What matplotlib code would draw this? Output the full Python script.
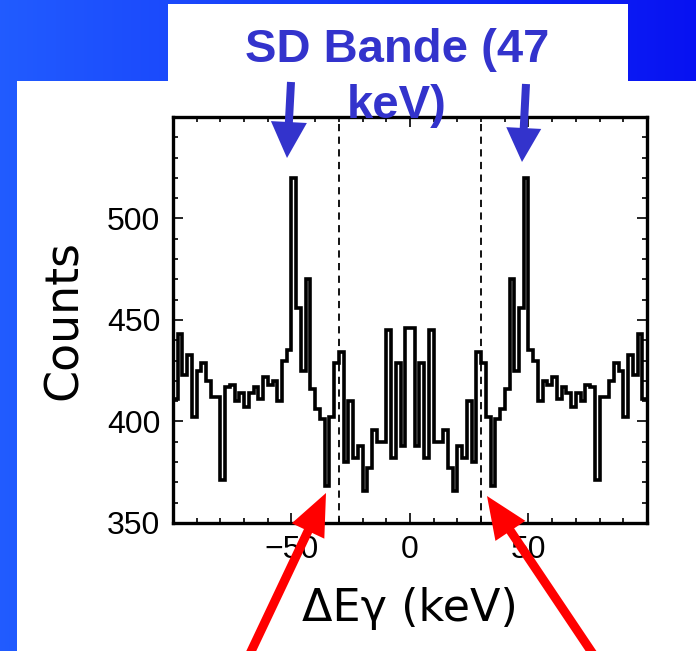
import numpy as np
import matplotlib
matplotlib.use("Agg")
import matplotlib.pyplot as plt
from matplotlib.patches import Rectangle, FancyArrow
from matplotlib.ticker import MultipleLocator

# Gamma-gamma energy difference spectrum (2 keV bins, -100 .. 100 keV)
counts = [
    411, 443, 423, 433, 402, 425, 429, 420, 412, 412,
    371, 417, 418, 410, 414, 407, 414, 417, 411, 422,
    418, 420, 410, 430, 435, 520, 456, 425, 470, 416,
    406, 401, 368, 402, 429, 434, 380, 410, 382, 388,
    366, 377, 396, 390, 390, 445, 382, 429, 388, 446,
    446, 388, 429, 382, 445, 390, 390, 396, 377, 366,
    388, 382, 410, 380, 434, 429, 402, 368, 401, 406,
    416, 470, 425, 456, 520, 435, 430, 410, 420, 418,
    422, 411, 417, 414, 407, 414, 410, 418, 417, 371,
    412, 412, 420, 429, 425, 402, 433, 423, 443, 411,
]
bin_edges = np.linspace(-100, 100, len(counts) + 1)
gate_limits = [-30, 30]
x_ticks = [-50, 0, 50]
y_ticks = [350, 400, 450, 500]

title_lines = ["SD Bande (47", "keV)"]
x_label = "ΔEγ (keV)"
y_label = "Counts"

W, H, DPI = 696, 651, 100
fig = plt.figure(figsize=(W / DPI, H / DPI), dpi=DPI)

# slide background: blue gradient with white panels
bg = fig.add_axes([0, 0, 1, 1])
bg.set_axis_off()
grad = np.linspace(0, 1, 256)[None, :]
c0 = np.array([0.13, 0.36, 1.0])
c1 = np.array([0.03, 0.07, 0.95])
img = c0[None, None, :] * (1 - grad[..., None]) + c1[None, None, :] * grad[..., None]
bg.imshow(img, extent=[0, 1, 0, 1], aspect="auto", transform=bg.transAxes, zorder=0)
bg.set_xlim(0, 1)
bg.set_ylim(0, 1)
bg.add_patch(Rectangle((17 / W, 0), 1 - 17 / W, 1 - 81 / H, transform=bg.transAxes,
                       facecolor="white", edgecolor="none", zorder=1))
bg.add_patch(Rectangle((168 / W, 1 - 81 / H), (628 - 168) / W, (81 - 4) / H,
                       transform=bg.transAxes, facecolor="white", edgecolor="none", zorder=1))

# spectrum axes
ax = fig.add_axes([173 / W, 1 - 523 / H, (647 - 173) / W, (523 - 117) / H])
ax.set_facecolor("white")
ax.stairs(counts, bin_edges, color="black", linewidth=2.6, baseline=None)
for g in gate_limits:
    ax.axvline(g, color="black", linewidth=1.3, linestyle=(0, (4, 3)))
ax.set_xlim(-100, 100)
ax.set_ylim(350, 550)
ax.set_xticks(x_ticks)
ax.set_yticks(y_ticks)
ax.xaxis.set_minor_locator(MultipleLocator(10))
ax.yaxis.set_minor_locator(MultipleLocator(10))
ax.tick_params(which="both", direction="in", top=True, right=True, width=1.2)
ax.tick_params(which="major", length=7, pad=9)
ax.tick_params(which="minor", length=3.5)
for lab in ax.get_xticklabels() + ax.get_yticklabels():
    lab.set_fontfamily("Liberation Sans")
    lab.set_fontsize(23)
for s in ax.spines.values():
    s.set_linewidth(2.4)

fig.text(410 / W, 1 - 608 / H, x_label, ha="center", va="center",
         fontsize=32, family="DejaVu Sans")
fig.text(64 / W, 1 - 320 / H, y_label, ha="center", va="center", rotation=90,
         fontsize=33, family="DejaVu Sans")

# title
blue = "#3333cc"
fig.text(397 / W, 1 - 62 / H, title_lines[0], ha="center", va="baseline",
         fontsize=34, fontweight="bold", family="Liberation Sans", color=blue, zorder=10)
fig.text(397 / W, 1 - 118 / H, title_lines[1], ha="center", va="baseline",
         fontsize=34, fontweight="bold", family="Liberation Sans", color=blue, zorder=10)


def arrow(tail, tip, width, head_w, head_l, color):
    x0, y0 = tail[0] / DPI, (H - tail[1]) / DPI
    x1, y1 = tip[0] / DPI, (H - tip[1]) / DPI
    fig.add_artist(FancyArrow(x0, y0, x1 - x0, y1 - y0, width=width / DPI,
                              head_width=head_w / DPI, head_length=head_l / DPI,
                              length_includes_head=True, color=color, linewidth=0,
                              transform=fig.dpi_scale_trans, zorder=20))


# blue arrows marking the band peaks
arrow((291, 82), (287, 158), 8, 36, 36, blue)
arrow((526, 84), (522, 162), 8, 35, 34, blue)
# red arrows marking the gate edges
arrow((247, 660), (326, 493), 9, 36, 42, "#ff0000")
arrow((597, 660), (487, 496), 9, 36, 42, "#ff0000")

fig.savefig("out.png", dpi=DPI)
